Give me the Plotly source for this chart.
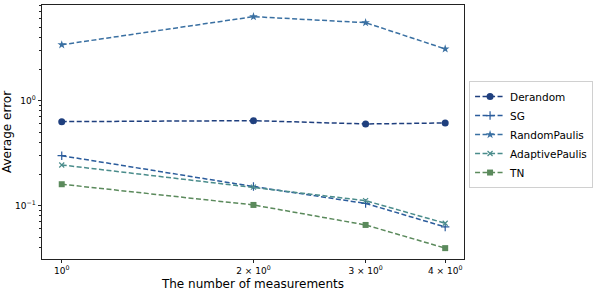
import plotly.graph_objects as go

x_vals = [1, 2, 3, 4]
derandom = [0.631, 0.645, 0.600, 0.613]
sg = [0.299, 0.152, 0.105, 0.0627]
random_paulis = [3.41, 6.31, 5.53, 3.11]
adaptive_paulis = [0.244, 0.150, 0.1116, 0.068]
tn = [0.160, 0.1016, 0.0655, 0.0394]

x_tick_vals = [1, 2, 3, 4]
x_tick_text = ["10<sup>0</sup>", "2 × 10<sup>0</sup>", "3 × 10<sup>0</sup>", "4 × 10<sup>0</sup>"]
y_tick_vals = [0.1, 1]
y_tick_text = ["10<sup>−1</sup>", "10<sup>0</sup>"]
y_minor_vals = [m * 10 ** e for e in (-2, -1, 0) for m in range(2, 10)]

series = [
    ("Derandom", derandom, "#1f3f7e", "circle", 7, 0),
    ("SG", sg, "#2b5c9c", "cross-thin", 6, 1.2),
    ("RandomPaulis", random_paulis, "#3a70a2", "star", 6.5, 0),
    ("AdaptivePaulis", adaptive_paulis, "#4a8c8b", "x-thin", 5, 1.2),
    ("TN", tn, "#5b8a5c", "square", 6, 0),
]

fig = go.Figure()
for name, ys, color, sym, size, lw in series:
    fig.add_trace(go.Scatter(
        x=x_vals, y=ys, name=name, mode="lines+markers",
        line=dict(color=color, width=1.5, dash="5px,2.5px"),
        marker=dict(symbol=sym, size=size, color=color,
                    line=dict(color=color, width=lw)),
    ))

axis_common = dict(
    showline=True, linecolor="#222", linewidth=0.8, mirror=True,
    ticks="outside", ticklen=3.5, tickwidth=0.8, tickcolor="#222",
    showgrid=False, zeroline=False, automargin=False,
    tickfont=dict(size=9, color="black"),
)

fig.update_layout(
    width=598, height=293,
    margin=dict(l=42, r=128, t=5, b=34),
    paper_bgcolor="white", plot_bgcolor="white",
    font=dict(family="DejaVu Sans", color="black"),
    showlegend=True,
    legend=dict(
        x=1.012, y=0.49, xanchor="left", yanchor="middle",
        bordercolor="#d0d0d0", borderwidth=1, bgcolor="white",
        font=dict(size=10.5), tracegroupgap=0, itemwidth=30,
    ),
)
fig.update_xaxes(
    type="log", range=[-0.031, 0.6316],
    tickmode="array", tickvals=x_tick_vals, ticktext=x_tick_text,
    title=dict(text="The number of measurements", font=dict(size=12), standoff=4),
    **axis_common,
)
fig.update_yaxes(
    type="log", range=[-1.508, 0.911],
    tickmode="array", tickvals=y_tick_vals, ticktext=y_tick_text,
    minor=dict(tickmode="array", tickvals=y_minor_vals, ticks="outside",
               ticklen=2, tickwidth=0.6, tickcolor="#222"),
    title=dict(text="Average error", font=dict(size=12), standoff=8),
    **axis_common,
)

fig.write_html("out.html", config={"displayModeBar": False},
               post_script="document.body.style.margin='0px';")
